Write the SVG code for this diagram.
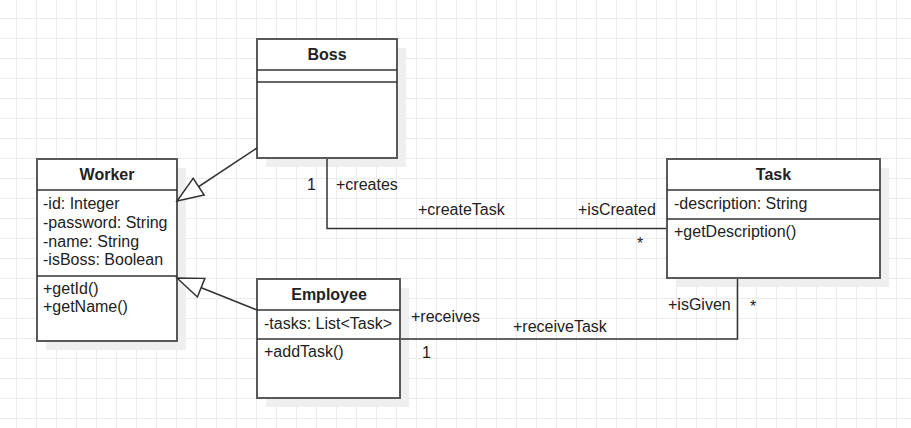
<svg xmlns="http://www.w3.org/2000/svg" width="911" height="428" viewBox="0 0 911 428">
<style>
.box{fill:#ffffff;stroke:#595959;stroke-width:2}
.shadow{fill:#efefef;stroke:none}
.sep{stroke:#333333;stroke-width:1.5;fill:none}
.t{font-family:"Liberation Sans",Arial,sans-serif;font-size:16px;fill:#222222}
.title{font-weight:bold;text-anchor:middle}
.edge{stroke:#333333;stroke-width:1.5;fill:none}
.grid{stroke:#ececec;stroke-width:1;fill:none}
</style>
<defs>
<marker id="gen" markerUnits="userSpaceOnUse" viewBox="-28 -12 30 24" markerWidth="30" markerHeight="24" refX="0" refY="0" orient="auto">
<path d="M0,0 L-26,-10 L-26,10 Z" fill="#ffffff" stroke="#333333" stroke-width="1.5" stroke-linejoin="miter"/>
</marker>
</defs>
<rect x="0" y="0" width="911" height="428" fill="#ffffff"/>
<path class="grid" d="M16.5 0V428M36.5 0V428M56.5 0V428M76.5 0V428M96.5 0V428M116.5 0V428M136.5 0V428M156.5 0V428M176.5 0V428M196.5 0V428M216.5 0V428M236.5 0V428M256.5 0V428M276.5 0V428M296.5 0V428M316.5 0V428M336.5 0V428M356.5 0V428M376.5 0V428M396.5 0V428M416.5 0V428M436.5 0V428M456.5 0V428M476.5 0V428M496.5 0V428M516.5 0V428M536.5 0V428M556.5 0V428M576.5 0V428M596.5 0V428M616.5 0V428M636.5 0V428M656.5 0V428M676.5 0V428M696.5 0V428M716.5 0V428M736.5 0V428M756.5 0V428M776.5 0V428M796.5 0V428M816.5 0V428M836.5 0V428M856.5 0V428M876.5 0V428M896.5 0V428M0 18.5H911M0 38.5H911M0 58.5H911M0 78.5H911M0 98.5H911M0 118.5H911M0 138.5H911M0 158.5H911M0 178.5H911M0 198.5H911M0 218.5H911M0 238.5H911M0 258.5H911M0 278.5H911M0 298.5H911M0 318.5H911M0 338.5H911M0 358.5H911M0 378.5H911M0 398.5H911M0 418.5H911"/>

<g id="worker">
<rect class="shadow" x="46" y="168" width="140" height="182"/>
<rect class="box" x="37" y="159" width="140" height="182"/>
<line class="sep" x1="37" y1="190" x2="177" y2="190"/>
<line class="sep" x1="37" y1="276" x2="177" y2="276"/>
<text class="t title" x="107" y="180">Worker</text>
<text class="t" x="43" y="209">-id: Integer</text>
<text class="t" x="43" y="228">-password: String</text>
<text class="t" x="43" y="247">-name: String</text>
<text class="t" x="43" y="265">-isBoss: Boolean</text>
<text class="t" x="43" y="294">+getId()</text>
<text class="t" x="43" y="312">+getName()</text>
</g>

<g id="boss">
<rect class="shadow" x="266" y="48" width="140" height="119"/>
<rect class="box" x="257" y="39" width="140" height="119"/>
<line class="sep" x1="257" y1="70" x2="397" y2="70"/>
<line class="sep" x1="257" y1="82" x2="397" y2="82"/>
<text class="t title" x="327" y="60">Boss</text>
</g>

<g id="employee">
<rect class="shadow" x="266" y="288" width="143" height="119"/>
<rect class="box" x="257" y="279" width="143" height="119"/>
<line class="sep" x1="257" y1="310" x2="400" y2="310"/>
<line class="sep" x1="257" y1="339" x2="400" y2="339"/>
<text class="t title" x="329" y="300">Employee</text>
<text class="t" x="264" y="329">-tasks: List&lt;Task&gt;</text>
<text class="t" x="264" y="357">+addTask()</text>
</g>

<g id="task">
<rect class="shadow" x="676" y="168" width="213" height="119"/>
<rect class="box" x="667" y="159" width="213" height="119"/>
<line class="sep" x1="667" y1="190" x2="880" y2="190"/>
<line class="sep" x1="667" y1="219" x2="880" y2="219"/>
<text class="t title" x="773.5" y="180">Task</text>
<text class="t" x="674" y="209">-description: String</text>
<text class="t" x="674" y="237">+getDescription()</text>
</g>

<g id="connectors">
<path id="boss-worker" class="edge" d="M257,148 L177,201" marker-end="url(#gen)"/>
<path id="employee-worker" class="edge" d="M257,310 L177,278" marker-end="url(#gen)"/>
<path id="boss-task" class="edge" d="M327,159 V228.5 H666"/>
<path id="employee-task" class="edge" d="M401,339 H737.5 V279"/>
<g class="t">
<text x="307" y="190">1</text>
<text x="336" y="190">+creates</text>
<text x="418" y="215">+createTask</text>
<text x="578" y="215">+isCreated</text>
<text x="637" y="249">*</text>
<text x="411" y="322">+receives</text>
<text x="422" y="358">1</text>
<text x="513" y="332">+receiveTask</text>
<text x="668" y="310">+isGiven</text>
<text x="750" y="312">*</text>
</g>
</g>
</svg>
